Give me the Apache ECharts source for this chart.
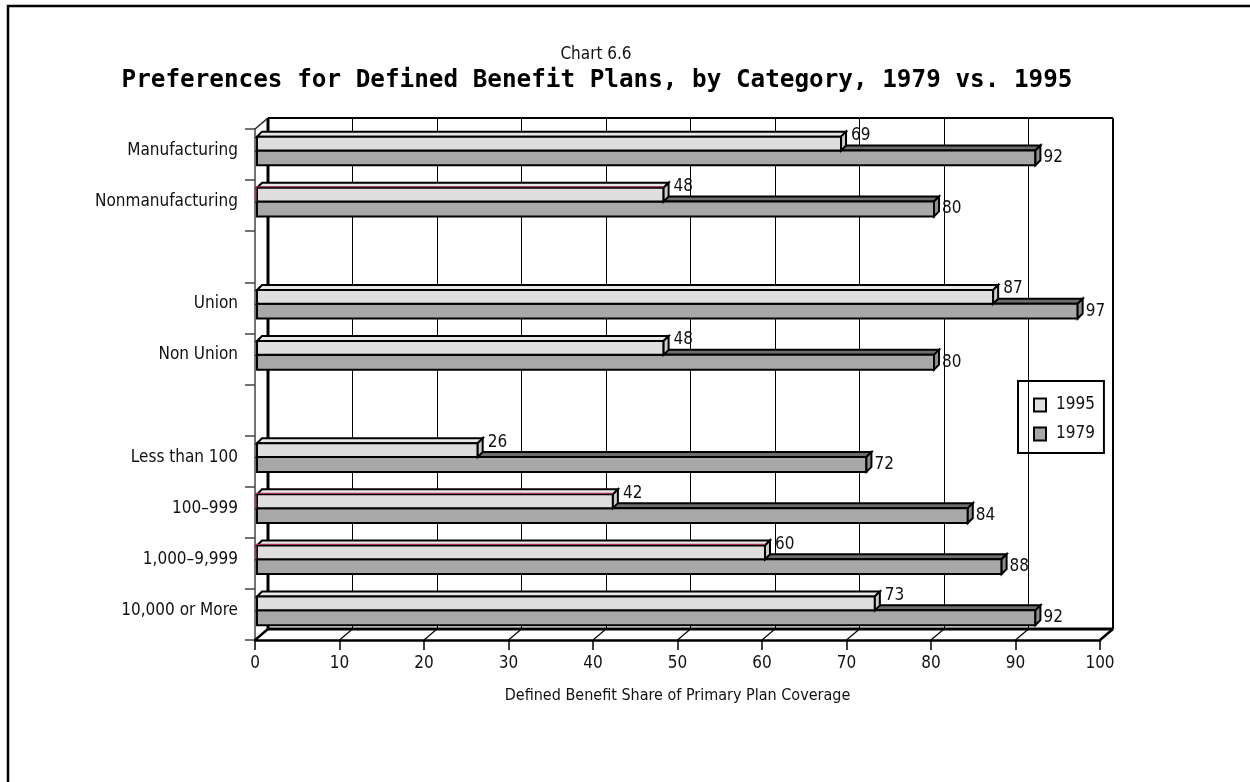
<!DOCTYPE html>
<html>
<head>
<meta charset="utf-8">
<title>Chart 6.6</title>
<script src="https://cdn.jsdelivr.net/npm/echarts@6/dist/echarts.min.js"></script>
<style>
  html, body { margin: 0; padding: 0; background: #ffffff; }
  #chart { width: 1250px; height: 782px; }
</style>
</head>
<body>
<div id="chart"></div>
<script>
// Categories top to bottom; the two blank entries are spacer rows between groups.
const categories = [
  'Manufacturing', 'Nonmanufacturing', '',
  'Union', 'Non Union', ' ',
  'Less than 100', '100\u2013999', '1,000\u20139,999', '10,000 or More'
];
const values1995 = [69, 48, null, 87, 48, null, 26, 42, 60, 73];
const values1979 = [92, 80, null, 97, 80, null, 72, 84, 88, 92];
const xTicks = [0, 10, 20, 30, 40, 50, 60, 70, 80, 90, 100];
const seriesNames = ['1995', '1979'];
// rows whose light bar shows a reddish top edge
const accentRows = ['Nonmanufacturing', '100\u2013999', '1,000\u20139,999'];

const FONT = "'DejaVu Sans Condensed', 'Liberation Sans Narrow', 'DejaVu Sans', sans-serif";
const TITLE_FONT = "'DejaVu Sans Mono', monospace";

// front plane of the plot and the depth offset of the back wall
const FRONT = { left: 255, top: 129, width: 845, height: 511 };
const DEPTH = { dx: 13, dy: -11 };

const LIGHT = { front: '#dedede', top: '#e8e8e8', side: '#cdcdcd' };
const DARK = { front: '#a8a8a8', top: '#6e6e6e', side: '#8f8f8f' };

function toData(vals) {
  const out = [];
  vals.forEach((v, i) => { if (v !== null) out.push([v, i]); });
  return out;
}

function makeBar(kind) {
  const pal = kind === 'light' ? LIGHT : DARK;
  return function (params, api) {
    const val = api.value(0);
    const cat = api.value(1);
    const base = api.coord([0, cat]);
    const end = api.coord([val, cat]);
    const band = api.size([0, 1])[1];
    const bandTop = base[1] - band / 2;
    const faceTop = bandTop + band * (kind === 'light' ? 0.15 : 0.42);
    const faceH = band * (kind === 'light' ? 0.27 : 0.29);
    const x0 = base[0] + 2;
    const x1 = end[0] + 3;
    const dx = 5, dy = -5;
    const stroke = { stroke: '#000', lineWidth: 2, lineJoin: 'miter' };
    const children = [
      {
        type: 'polygon',
        shape: { points: [[x0, faceTop], [x0 + dx, faceTop + dy], [x1 + dx, faceTop + dy], [x1, faceTop]] },
        style: Object.assign({ fill: pal.top }, stroke)
      },
      {
        type: 'rect',
        shape: { x: x0, y: faceTop, width: x1 - x0, height: faceH },
        style: Object.assign({ fill: pal.front }, stroke)
      },
      {
        type: 'polygon',
        shape: { points: [[x1, faceTop], [x1 + dx, faceTop + dy], [x1 + dx, faceTop + faceH + dy], [x1, faceTop + faceH]] },
        style: Object.assign({ fill: pal.side }, stroke)
      }
    ];
    if (kind === 'light' && accentRows.indexOf(categories[cat]) >= 0) {
      children.push({
        type: 'polyline',
        shape: { points: [[x0 - 1, faceTop + faceH], [x0 - 1, faceTop - 1], [x1, faceTop - 1]] },
        style: { stroke: '#a3324f', lineWidth: 1.2, fill: null }
      });
    }
    children.push({
      type: 'text',
      style: {
        text: String(val),
        x: x1 + dx + (kind === 'light' ? 5 : 3),
        y: kind === 'light' ? faceTop - 1 : faceTop + faceH / 2,
        verticalAlign: 'middle',
        align: 'left',
        fontFamily: FONT,
        fontSize: 17,
        fill: '#111'
      }
    });
    return { type: 'group', children: children };
  };
}

const option = {
  animation: false,
  backgroundColor: '#ffffff',
  title: [
    {
      text: 'Chart 6.6',
      left: 591, top: 41, textAlign: 'center',
      textStyle: { fontFamily: FONT, fontSize: 17, fontWeight: 'normal', color: '#111' }
    },
    {
      text: 'Preferences for Defined Benefit Plans, by Category, 1979 vs. 1995',
      left: 592, top: 64, textAlign: 'center',
      textStyle: { fontFamily: TITLE_FONT, fontSize: 24.3, fontWeight: 'bold', color: '#000' }
    }
  ],
  legend: {
    orient: 'vertical',
    left: 1018, top: 381,
    padding: [14, 9, 9, 15],
    itemGap: 9,
    itemWidth: 12, itemHeight: 13,
    borderColor: '#000', borderWidth: 2,
    textStyle: { fontFamily: FONT, fontSize: 17, color: '#111', lineHeight: 20, padding: [0, 0, 0, 5] },
    data: [
      { name: seriesNames[0], icon: 'rect', itemStyle: { color: LIGHT.front, borderColor: '#000', borderWidth: 2 } },
      { name: seriesNames[1], icon: 'rect', itemStyle: { color: DARK.front, borderColor: '#000', borderWidth: 2 } }
    ]
  },
  grid: [
    { left: FRONT.left, top: FRONT.top, width: FRONT.width, height: FRONT.height },
    { left: FRONT.left + DEPTH.dx, top: FRONT.top + DEPTH.dy, width: FRONT.width, height: FRONT.height }
  ],
  xAxis: [
    {
      type: 'value', gridIndex: 0,
      min: xTicks[0], max: xTicks[xTicks.length - 1], interval: 10,
      splitLine: { show: false },
      axisLine: { show: true, lineStyle: { color: '#000', width: 2.5 } },
      axisTick: { show: true, length: 10, lineStyle: { color: '#000', width: 1.5 } },
      axisLabel: { margin: 15, fontFamily: FONT, fontSize: 17, color: '#111' },
      name: 'Defined Benefit Share of Primary Plan Coverage',
      nameLocation: 'middle', nameGap: 48,
      nameTextStyle: { fontFamily: FONT, fontSize: 16, color: '#111' }
    },
    {
      type: 'value', gridIndex: 1,
      min: xTicks[0], max: xTicks[xTicks.length - 1], interval: 10,
      axisLine: { show: false }, axisTick: { show: false }, axisLabel: { show: false },
      splitLine: { show: true, lineStyle: { color: '#000', width: 1 } }
    }
  ],
  yAxis: [
    {
      type: 'category', gridIndex: 0, inverse: true,
      data: categories,
      axisLine: { show: true, lineStyle: { color: '#444', width: 1.5 } },
      axisTick: { show: true, length: 10, interval: 0, lineStyle: { color: '#444', width: 1.5 } },
      axisLabel: {
        margin: 17, interval: 0, fontFamily: FONT, fontSize: 17, color: '#111',
        verticalAlign: 'bottom', lineHeight: 8
      }
    },
    {
      type: 'category', gridIndex: 1, inverse: true,
      data: categories,
      axisLine: { show: false }, axisTick: { show: false }, axisLabel: { show: false },
      splitLine: { show: false }
    }
  ],
  series: [
    {
      name: seriesNames[1], type: 'custom',
      xAxisIndex: 0, yAxisIndex: 0,
      encode: { x: 0, y: 1 },
      itemStyle: { color: DARK.front },
      renderItem: makeBar('dark'),
      data: toData(values1979),
      z: 3
    },
    {
      name: seriesNames[0], type: 'custom',
      xAxisIndex: 0, yAxisIndex: 0,
      encode: { x: 0, y: 1 },
      itemStyle: { color: LIGHT.front },
      renderItem: makeBar('light'),
      data: toData(values1995),
      z: 4
    }
  ]
};

const chart = echarts.init(document.getElementById('chart'), null, { renderer: 'canvas' });
chart.setOption(option);

// Back wall outline, floor diagonals and the page frame, placed from the axes' own scales.
(function drawFrame() {
  const fx = v => chart.convertToPixel({ xAxisIndex: 0 }, v);
  const bx = v => chart.convertToPixel({ xAxisIndex: 1 }, v);
  const fTop = FRONT.top, fBot = FRONT.top + FRONT.height;
  const bTop = fTop + DEPTH.dy, bBot = fBot + DEPTH.dy;
  const bL = bx(xTicks[0]), bR = bx(xTicks[xTicks.length - 1]);
  const fL = fx(xTicks[0]);
  const line = (x1, y1, x2, y2, w, c) => ({
    type: 'line', z: 1, silent: true,
    shape: { x1: x1, y1: y1, x2: x2, y2: y2 },
    style: { stroke: c || '#000', lineWidth: w }
  });
  const g = [];
  g.push(line(bL, bTop, bR, bTop, 2));
  g.push(line(bR, bTop, bR, bBot, 2));
  g.push(line(bL, bTop, bL, bBot, 3));
  g.push(line(bL, bBot, bR, bBot, 3));
  g.push(line(fL, fTop, bL, bTop, 1.5, '#222'));
  xTicks.forEach(t => {
    g.push(line(fx(t), fBot, bx(t), bBot, t === xTicks[0] || t === xTicks[xTicks.length - 1] ? 2.5 : 1.2));
  });
  // page frame
  g.push({
    type: 'rect', z: 10, silent: true,
    shape: { x: 8, y: 6, width: 1400, height: 1000 },
    style: { fill: null, stroke: '#000', lineWidth: 2.5 }
  });
  chart.setOption({ graphic: g });
})();
</script>
</body>
</html>
